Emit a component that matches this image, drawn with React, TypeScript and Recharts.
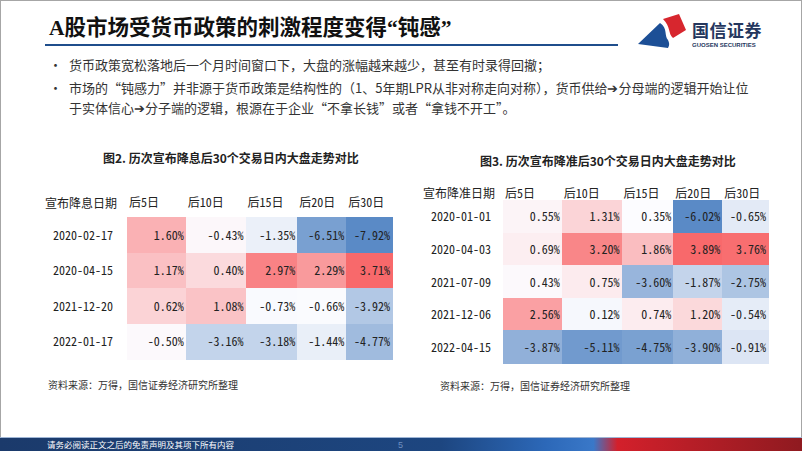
import React from 'react';
import { ScatterChart, Scatter, XAxis, YAxis } from 'recharts';

// ---------- data ----------
const COLUMNS = ['后5日', '后10日', '后15日', '后20日', '后30日'];

const CUT_DATES = ['2020-02-17', '2020-04-15', '2021-12-20', '2022-01-17'];
const CUT_D5 = [1.6, 1.17, 0.62, -0.5];
const CUT_D10 = [-0.43, 0.4, 1.08, -3.16];
const CUT_D15 = [-1.35, 2.97, -0.73, -3.18];
const CUT_D20 = [-6.51, 2.29, -0.66, -1.44];
const CUT_D30 = [-7.92, 3.71, -3.92, -4.77];

const RRR_DATES = ['2020-01-01', '2020-04-03', '2021-07-09', '2021-12-06', '2022-04-15'];
const RRR_D5 = [0.55, 0.69, 0.43, 2.56, -3.87];
const RRR_D10 = [1.31, 3.2, 0.75, 0.12, -5.11];
const RRR_D15 = [0.35, 1.86, -3.6, 0.74, -4.75];
const RRR_D20 = [-6.02, 3.89, -1.87, 1.2, -3.9];
const RRR_D30 = [-0.65, 3.76, -2.75, -0.54, -0.91];

// ---------- layout / style ----------
const COL_WIDTHS = [59, 60, 52, 49, 46];
const CJK = "'Noto Sans CJK SC', 'Noto Sans', sans-serif";
const NUM_FONT = "'Noto Sans Mono CJK SC', 'Noto Sans CJK SC', sans-serif";
const RED = [248, 105, 107];
const WHITE = [252, 252, 255];
const BLUE = [90, 138, 198];

function mix(a: number[], b: number[], t: number) {
  const c = a.map((v, i) => Math.round(v + (b[i] - v) * Math.max(0, Math.min(1, t))));
  return `rgb(${c[0]},${c[1]},${c[2]})`;
}

function makeScale(values: number[]) {
  const s = [...values].sort((a, b) => a - b);
  const n = s.length;
  const mid = n % 2 ? s[(n - 1) / 2] : (s[n / 2 - 1] + s[n / 2]) / 2;
  const min = s[0];
  const max = s[n - 1];
  return (v: number) =>
    v >= mid ? mix(WHITE, RED, (v - mid) / (max - mid)) : mix(WHITE, BLUE, (mid - v) / (mid - min));
}

type HeatProps = {
  dates: string[];
  series: number[][];
  left: number;
  top: number;
  yAxisW: number;
  xAxisH: number;
  plotW: number;
  plotH: number;
  headMargin: number;
  dateMargin: number;
};

function Heatmap(p: HeatProps) {
  const totalW = COL_WIDTHS.reduce((a, b) => a + b, 0);
  const starts: number[] = [];
  COL_WIDTHS.reduce((acc, w) => {
    starts.push(acc);
    return acc + w;
  }, 0);
  const color = makeScale(p.series.flat());
  const data: { x: number; y: number; v: number; c: number }[] = [];
  p.dates.forEach((_, r) =>
    p.series.forEach((vals, c) => data.push({ x: starts[c] + COL_WIDTHS[c] / 2, y: r + 0.5, v: vals[r], c }))
  );
  const pxX = p.plotW / totalW;
  const rowH = p.plotH / p.dates.length;
  const width = p.yAxisW + p.plotW + 4;
  const height = p.xAxisH + p.plotH + 4;

  const shape = (s: any) => {
    const w = COL_WIDTHS[s.payload.c] * pxX;
    return (
      <g>
        <rect
          x={s.cx - w / 2}
          y={s.cy - rowH / 2}
          width={w + 0.5}
          height={rowH + 0.5}
          fill={color(s.payload.v)}
          shapeRendering="crispEdges"
        />
        <text
          x={s.cx + w / 2 - 2}
          y={s.cy + 5}
          textAnchor="end"
          fontFamily={NUM_FONT}
          fontSize={12}
          fill="#222"
        >
          {s.payload.v.toFixed(2) + '%'}
        </text>
      </g>
    );
  };

  const headTick = (t: any) => (
    <text x={t.x + 2} y={t.y} textAnchor="start" fontFamily={NUM_FONT} fontSize={12} fill="#222">
      {COLUMNS[t.index]}
    </text>
  );
  const dateTick = (t: any) => (
    <text x={t.x} y={t.y + 5} textAnchor="end" fontFamily={NUM_FONT} fontSize={12} fill="#222">
      {p.dates[t.index]}
    </text>
  );

  return (
    <div style={{ position: 'absolute', left: p.left, top: p.top }}>
      <ScatterChart width={width} height={height} margin={{ top: 0, right: 4, bottom: 4, left: 0 }}>
        <XAxis
          type="number"
          dataKey="x"
          orientation="top"
          domain={[0, totalW]}
          ticks={starts}
          interval={0}
          height={p.xAxisH}
          tickSize={0}
          tickMargin={p.headMargin}
          axisLine={false}
          tickLine={false}
          tick={headTick}
        />
        <YAxis
          type="number"
          dataKey="y"
          domain={[0, p.dates.length]}
          reversed
          ticks={p.dates.map((_, i) => i + 0.5)}
          interval={0}
          width={p.yAxisW}
          tickSize={0}
          tickMargin={p.dateMargin}
          axisLine={false}
          tickLine={false}
          tick={dateTick}
        />
        <Scatter data={data} shape={shape} isAnimationActive={false} />
      </ScatterChart>
    </div>
  );
}

const abs = (left: number, top: number, extra: React.CSSProperties = {}): React.CSSProperties => ({
  position: 'absolute',
  left,
  top,
  whiteSpace: 'nowrap',
  ...extra,
});

export default function App() {
  return (
    <div
      style={{
        position: 'absolute',
        left: 0,
        top: 0,
        width: 802,
        height: 451,
        background: '#fff',
        overflow: 'hidden',
        fontFamily: CJK,
      }}
    >
      {/* slide border */}
      <div style={{ position: 'absolute', left: 0, top: 0, width: 800, height: 449, border: '1px solid #a6a6a6' }} />

      {/* title */}
      <div
        style={abs(49, 14, {
          fontSize: 21.5,
          fontWeight: 700,
          lineHeight: '28px',
          color: '#111',
          fontFamily: "'Liberation Serif', 'Noto Sans CJK SC', serif",
        })}
      >
        A股市场受货币政策的刺激程度变得“钝感”
      </div>
      <div style={{ position: 'absolute', left: 45, top: 44, width: 573, height: 2, background: '#1f4e8c' }} />

      {/* logo */}
      <svg style={{ position: 'absolute', left: 0, top: 0 }} width={802} height={60}>
        <path d="M638,44 L660,23 C668,28 664,36 668,40 C670,44 669,46 668,48 Z" fill="#1c4f96" />
        <path d="M663,19 L679,14 L686,30 L673,38 C668,34 671,27 663,19 Z" fill="#d7262e" />
      </svg>
      <div style={abs(692, 19, { fontSize: 17, fontWeight: 700, lineHeight: '22px', color: '#25375e', letterSpacing: 0.5 })}>
        国信证券
      </div>
      <div
        style={abs(692, 41, {
          fontSize: 6,
          fontWeight: 700,
          lineHeight: '8px',
          color: '#25375e',
          fontFamily: "'Liberation Sans', sans-serif",
        })}
      >
        GUOSEN SECURITIES
      </div>

      {/* bullets */}
      <div style={abs(49, 55, { fontSize: 13, lineHeight: '20px', color: '#333' })}>•</div>
      <div style={abs(69, 55, { fontSize: 13, lineHeight: '20px', color: '#333' })}>
        货币政策宽松落地后一个月时间窗口下，大盘的涨幅越来越少，甚至有时录得回撤；
      </div>
      <div style={abs(49, 78, { fontSize: 13, lineHeight: '20px', color: '#333' })}>•</div>
      <div style={abs(69, 78, { fontSize: 13, lineHeight: '20px', color: '#333' })}>
        市场的“钝感力”并非源于货币政策是结构性的（1、5年期LPR从非对称走向对称），货币供给➔分母端的逻辑开始让位
        <br />
        于实体信心➔分子端的逻辑，根源在于企业“不拿长钱”或者“拿钱不开工”。
      </div>

      {/* left heatmap */}
      <div style={abs(103, 150, { fontSize: 12, fontWeight: 700, lineHeight: '16px', color: '#222' })}>
        图2. 历次宣布降息后30个交易日内大盘走势对比
      </div>
      <div style={abs(45, 195, { fontSize: 12, lineHeight: '16px', color: '#222' })}>宣布降息日期</div>
      <Heatmap
        dates={CUT_DATES}
        series={[CUT_D5, CUT_D10, CUT_D15, CUT_D20, CUT_D30]}
        left={30}
        top={185}
        yAxisW={97}
        xAxisH={32}
        plotW={265}
        plotH={142}
        headMargin={10}
        dateMargin={14}
      />
      <div style={abs(48, 378, { fontSize: 10, lineHeight: '14px', color: '#333' })}>
        资料来源：万得，国信证券经济研究所整理
      </div>

      {/* right heatmap */}
      <div style={abs(480, 153, { fontSize: 12, fontWeight: 700, lineHeight: '16px', color: '#222' })}>
        图3. 历次宣布降准后30个交易日内大盘走势对比
      </div>
      <div style={abs(423, 185, { fontSize: 12, lineHeight: '16px', color: '#222' })}>宣布降准日期</div>
      <Heatmap
        dates={RRR_DATES}
        series={[RRR_D5, RRR_D10, RRR_D15, RRR_D20, RRR_D30]}
        left={410}
        top={176}
        yAxisW={93}
        xAxisH={24}
        plotW={265}
        plotH={163}
        headMargin={2}
        dateMargin={12}
      />
      <div style={abs(440, 379, { fontSize: 10, lineHeight: '14px', color: '#333' })}>
        资料来源：万得，国信证券经济研究所整理
      </div>

      {/* footer */}
      <div
        style={{
          position: 'absolute',
          left: 0,
          top: 437,
          width: 802,
          height: 14,
          background:
            'linear-gradient(90deg, #1b3a6b 0%, #1d4680 55%, #2c68b8 68%, #3a78c8 74%, #d3202b 77%, #b71e27 86%, #8f1a20 100%)',
          borderTop: '1px solid #9fb6d6',
        }}
      />
      <div style={abs(47, 438, { fontSize: 8.5, lineHeight: '12px', color: '#fff' })}>
        请务必阅读正文之后的免责声明及其项下所有内容
      </div>
      <div style={abs(398, 439, { fontSize: 9, lineHeight: '12px', color: '#6f8fc0', fontFamily: "'Liberation Sans', sans-serif" })}>
        5
      </div>
    </div>
  );
}
